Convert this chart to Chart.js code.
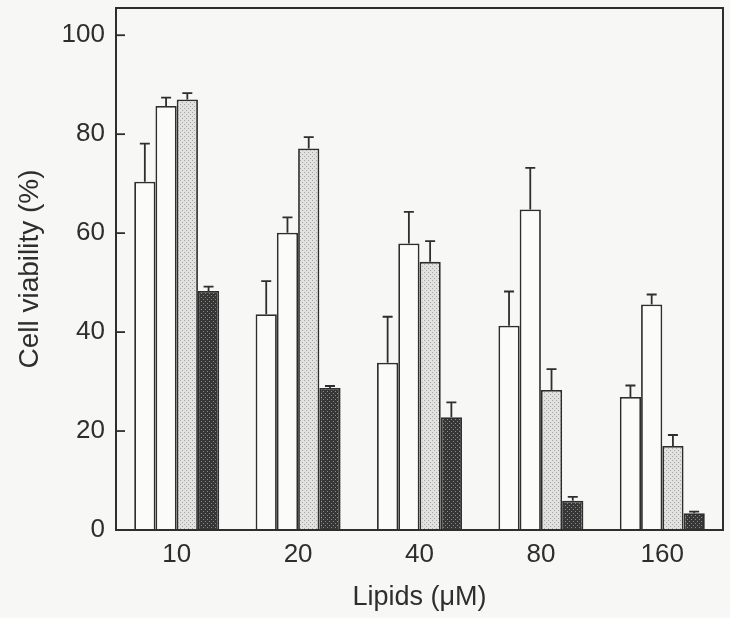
<!DOCTYPE html>
<html>
<head>
<meta charset="utf-8">
<script src="https://cdn.jsdelivr.net/npm/chart.js@4"></script>
<style>
  html, body { margin: 0; padding: 0; background: #f7f7f5; }
  #wrap { width: 730px; height: 618px; }
</style>
</head>
<body>
<div id="wrap"><canvas id="chart" width="730" height="618"></canvas></div>
<script>
const categories = ['10', '20', '40', '80', '160'];
const yTicks = [0, 20, 40, 60, 80, 100];

const openA = [70.4, 43.6, 33.8, 41.3, 26.9];
const openAErr = [7.7, 6.7, 9.3, 6.9, 2.3];
const openB = [85.7, 60.1, 57.9, 64.8, 45.6];
const openBErr = [1.7, 3.1, 6.4, 8.4, 2.0];
const dotted = [87.0, 77.1, 54.2, 28.3, 17.0];
const dottedErr = [1.3, 2.3, 4.2, 4.2, 2.2];
const dark = [48.3, 28.7, 22.8, 5.9, 3.4];
const darkErr = [0.9, 0.4, 3.0, 0.8, 0.3];

const ink = '#2e2e2e';

function makePattern(bg, dot, dots) {
    const c = document.createElement('canvas');
    c.width = 4; c.height = 4;
    const g = c.getContext('2d');
    g.fillStyle = bg;
    g.fillRect(0, 0, 4, 4);
    g.fillStyle = dot;
    dots.forEach(p => g.fillRect(p[0], p[1], 1, 1));
    return g.createPattern(c, 'repeat');
}

const lightFill = makePattern('#e2e2e0', '#a4a4a2', [[0, 0], [2, 2]]);
const darkFill = makePattern('#363636', '#8a8a8a', [[1, 1], [3, 3]]);

// frame round the plot, inward ticks on the left axis, upward error bars
const decorations = {
    id: 'decorations',
    afterDatasetsDraw(chart) {
        const ctx = chart.ctx;
        const area = chart.chartArea;
        const y = chart.scales.y;
        ctx.save();
        ctx.strokeStyle = ink;
        ctx.lineWidth = 1.8;
        chart.data.datasets.forEach((ds, di) => {
            const meta = chart.getDatasetMeta(di);
            meta.data.forEach((bar, i) => {
                const top = y.getPixelForValue(ds.data[i] + ds.errors[i]);
                ctx.beginPath();
                ctx.moveTo(bar.x, bar.y);
                ctx.lineTo(bar.x, top);
                ctx.moveTo(bar.x - 5, top);
                ctx.lineTo(bar.x + 5, top);
                ctx.stroke();
            });
        });
        y.ticks.forEach((t, i) => {
            const py = y.getPixelForTick(i);
            ctx.beginPath();
            ctx.moveTo(area.left, py);
            ctx.lineTo(area.left + 9, py);
            ctx.stroke();
        });
        ctx.lineWidth = 2;
        ctx.strokeRect(area.left, area.top, area.right - area.left, area.bottom - area.top);
        ctx.restore();
    }
};

const barStyle = {
    borderColor: ink,
    borderWidth: 1.8,
    borderSkipped: 'start',
    categoryPercentage: 0.7,
    barPercentage: 1.0
};

new Chart(document.getElementById('chart'), {
    type: 'bar',
    data: {
        labels: categories,
        datasets: [
            { data: openA, errors: openAErr, backgroundColor: '#fbfbfa', ...barStyle },
            { data: openB, errors: openBErr, backgroundColor: '#fbfbfa', ...barStyle },
            { data: dotted, errors: dottedErr, backgroundColor: lightFill, ...barStyle },
            { data: dark, errors: darkErr, backgroundColor: darkFill, ...barStyle }
        ]
    },
    options: {
        responsive: false,
        animation: false,
        layout: { padding: { left: 9, top: 8, right: 7, bottom: 0 } },
        plugins: { legend: { display: false }, tooltip: { enabled: false } },
        scales: {
            x: {
                offset: true,
                grid: { display: false, drawTicks: false },
                border: { display: false },
                ticks: {
                    color: ink,
                    padding: 9,
                    font: { family: 'Liberation Sans', size: 26 }
                },
                title: {
                    display: true,
                    text: 'Lipids (\u03bcM)',
                    color: ink,
                    padding: { top: 0, bottom: 4 },
                    font: { family: 'Liberation Sans', size: 27 }
                },
                afterFit(scale) {
                    scale.height = 88;
                    scale.paddingLeft = 0;
                    scale.paddingRight = 0;
                }
            },
            y: {
                min: 0,
                max: 105.5,
                afterBuildTicks(scale) {
                    scale.ticks = yTicks.map(v => ({ value: v }));
                },
                grid: { display: false, drawTicks: false },
                border: { display: false },
                ticks: {
                    color: ink,
                    padding: 11,
                    font: { family: 'Liberation Sans', size: 26 }
                },
                title: {
                    display: true,
                    text: 'Cell viability (%)',
                    color: ink,
                    padding: { top: 4, bottom: 0 },
                    font: { family: 'Liberation Sans', size: 28 }
                },
                afterFit(scale) {
                    scale.width = 107;
                    scale.paddingTop = 0;
                    scale.paddingBottom = 0;
                }
            }
        }
    },
    plugins: [decorations]
});
</script>
</body>
</html>
